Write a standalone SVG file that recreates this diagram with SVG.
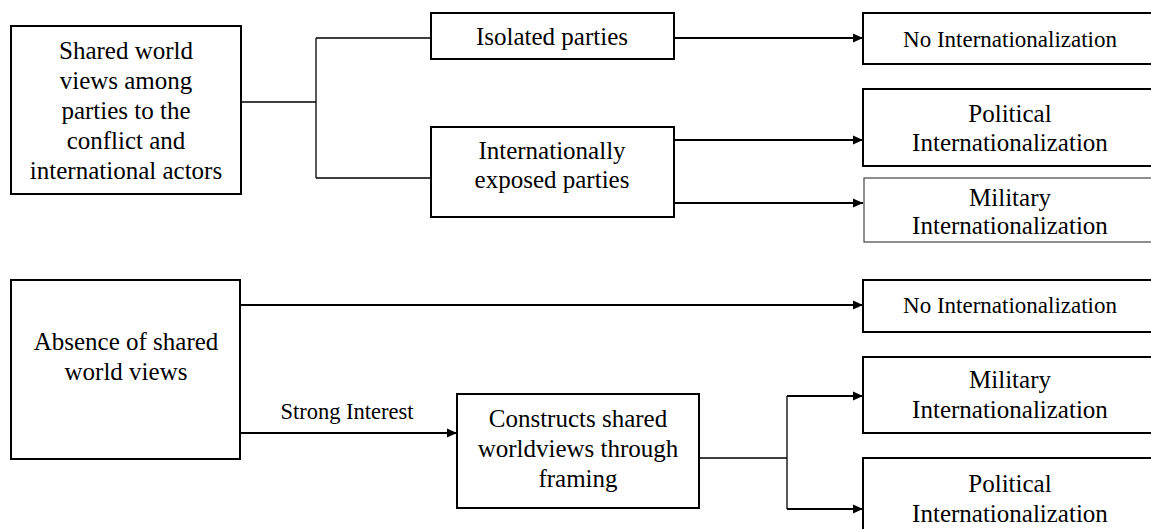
<svg xmlns="http://www.w3.org/2000/svg" width="1151" height="529" viewBox="0 0 1151 529">
<style>
.box{fill:#fff;stroke:#000;stroke-width:2}
.thin{fill:#fff;stroke:#444;stroke-width:1.2}
text{font-family:"Liberation Serif","Times New Roman",serif;fill:#000;text-anchor:middle}
.t{font-size:25px}
.s{font-size:23px}
.lbl{font-size:22.5px}
.ln{fill:none;stroke:#000;stroke-width:1.3}
.ar{fill:none;stroke:#000;stroke-width:2;marker-end:url(#ah)}
</style>
<defs>
<marker id="ah" markerUnits="userSpaceOnUse" markerWidth="11" markerHeight="10" refX="10" refY="5" orient="auto">
<path d="M0,0.5 L10,5 L0,9.5 z" fill="#000"/>
</marker>
</defs>
<rect width="1151" height="529" fill="#fff"/>
<g id="connectors">
<path class="ln" d="M241,102 H316 M316,38 V178 M316,38 H431 M316,178 H431"/>
<path class="ar" d="M674,38 H863"/>
<path class="ar" d="M674,140 H863"/>
<path class="ar" d="M674,203 H863"/>
<path class="ar" d="M241,305 H863"/>
<path class="ar" d="M241,433 H457"/>
<path class="ln" d="M699,458 H787 M787,396 V509"/>
<path class="ar" d="M787,396 H863"/>
<path class="ar" d="M787,509 H863"/>
<text class="lbl" x="347" y="419">Strong Interest</text>
</g>
<g id="n-shared">
<rect class="box" x="11" y="26" width="230" height="168"/>
<text class="t"><tspan x="126" y="59">Shared world</tspan><tspan x="126" y="89">views among</tspan><tspan x="126" y="119">parties to the</tspan><tspan x="126" y="149">conflict and</tspan><tspan x="126" y="179">international actors</tspan></text>
</g>
<g id="n-isolated">
<rect class="box" x="431" y="13" width="243" height="46"/>
<text class="t" x="552" y="45">Isolated parties</text>
</g>
<g id="n-exposed">
<rect class="box" x="431" y="127" width="243" height="90"/>
<text class="t"><tspan x="552" y="159">Internationally</tspan><tspan x="552" y="188">exposed parties</tspan></text>
</g>
<g id="n-noint1">
<rect class="box" x="863" y="13" width="300" height="51"/>
<text class="s" x="1010" y="47">No Internationalization</text>
</g>
<g id="n-pol1">
<rect class="box" x="863" y="89" width="300" height="77"/>
<text class="t"><tspan x="1010" y="122">Political</tspan><tspan x="1010" y="151">Internationalization</tspan></text>
</g>
<g id="n-mil1">
<rect class="thin" x="864" y="178" width="300" height="64"/>
<text class="t"><tspan x="1010" y="206">Military</tspan><tspan x="1010" y="234">Internationalization</tspan></text>
</g>
<g id="n-absence">
<rect class="box" x="11" y="280" width="229" height="179"/>
<text class="t"><tspan x="126" y="350">Absence of shared</tspan><tspan x="126" y="380">world views</tspan></text>
</g>
<g id="n-constructs">
<rect class="box" x="457" y="394" width="242" height="114"/>
<text class="t"><tspan x="578" y="427">Constructs shared</tspan><tspan x="578" y="457">worldviews through</tspan><tspan x="578" y="487">framing</tspan></text>
</g>
<g id="n-noint2">
<rect class="box" x="863" y="280" width="300" height="52"/>
<text class="s" x="1010" y="313">No Internationalization</text>
</g>
<g id="n-mil2">
<rect class="box" x="863" y="357" width="300" height="76"/>
<text class="t"><tspan x="1010" y="388">Military</tspan><tspan x="1010" y="418">Internationalization</tspan></text>
</g>
<g id="n-pol2">
<rect class="box" x="863" y="458" width="300" height="100"/>
<text class="t"><tspan x="1010" y="492">Political</tspan><tspan x="1010" y="522">Internationalization</tspan></text>
</g>
</svg>
